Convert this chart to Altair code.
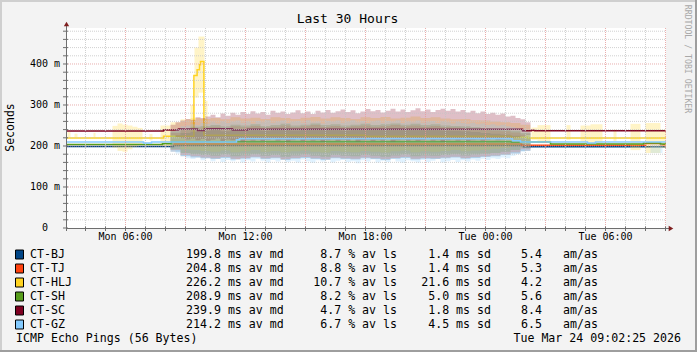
import altair as alt
import pandas as pd

# ---------------- data ----------------
names = ["CT-BJ", "CT-TJ", "CT-HLJ", "CT-SH", "CT-SC", "CT-GZ"]
colors = ["#004586", "#ff420e", "#ffd320", "#579d1c", "#7e0021", "#83caff"]
med_ms = [199.8, 204.8, 226.2, 208.9, 239.9, 214.2]
loss_pct = [8.7, 8.8, 10.7, 8.2, 4.7, 6.7]
sd_ms = [1.4, 1.4, 21.6, 5.0, 1.8, 4.5]
am_as = [5.4, 5.3, 4.2, 5.6, 8.4, 6.5]

title_text = "Last 30 Hours"
y_title = "Seconds"
footer_left = "ICMP Echo Pings (56 Bytes)"
footer_right = "Tue Mar 24 09:02:25 2026"
watermark = "RRDTOOL / TOBI OETIKER"

# time axis in hours since Mon 00:00
T0, T1 = 3.025, 33.025
YMAX = 487.8
tick_hours = [6, 12, 18, 24, 30]
tick_labels = ["Mon 06:00", "Mon 12:00", "Mon 18:00", "Tue 00:00", "Tue 06:00"]
y_tick_vals = [100, 200, 300, 400]
y_tick_labels = ["100 m", "200 m", "300 m", "400 m"]
y_zero_label = "0"

# median lines (step changes: time, value in ms)
bj_t = [3.025, 8.40, 25.90, 33.025]
bj_v = [198.5, 201.0, 198.0, 198.0]
tj_t = [8.40, 25.80, 32.00, 32.75, 33.025]
tj_v = [205.0, 202.0, 206.0, 203.0, 203.0]
hlj_t = [3.025, 7.90, 9.42, 9.58, 9.70, 9.75, 9.92, 18.0, 25.30, 26.10, 33.025]
hlj_v = [219.5, 223.5, 372, 386, 398, 406, 226, 224, 221.5, 219.5, 219.5]
sh_t = [3.025, 7.85, 8.30, 25.30, 25.75, 27.25, 31.90, 32.75, 33.025]
sh_v = [203.5, 205.5, 210.5, 209.0, 209.5, 205.0, 207.5, 205.0, 205.0]
sc_t = [3.025, 7.90, 8.65, 9.60, 9.95, 11.35, 12.10, 25.85, 26.30, 26.45, 33.025]
sc_v = [236.5, 239.0, 241.5, 237.5, 242.0, 239.0, 241.0, 237.0, 238.5, 237.0, 237.0]
gz_t = [3.025, 6.90, 7.30, 11.55, 11.70, 25.35, 25.75, 29.10, 29.50, 33.025]
gz_v = [209.5, 207.5, 209.5, 215.0, 217.5, 213.0, 210.0, 207.5, 209.5, 209.5]

# smoke during the busy period (starting 08:15); 30-minute bins
busy_start = 8.25
bj_lo = [186, 175, 172, 170, 168, 171, 167, 169, 172, 168, 170, 166, 169, 171, 168, 166, 170, 168, 167, 170,
         168, 166, 169, 171, 167, 169, 168, 170, 172, 169, 171, 173, 175, 178, 182, 188]
bj_hi = [226, 232, 235, 237, 239, 236, 240, 238, 241, 237, 239, 242, 238, 240, 243, 239, 241, 238, 240, 242,
         239, 241, 243, 240, 242, 239, 241, 238, 237, 236, 234, 232, 230, 228, 225, 220]
tj_lo = [190, 178, 175, 172, 170, 173, 169, 171, 174, 170, 172, 168, 171, 173, 170, 168, 172, 170, 169, 172,
         170, 168, 171, 173, 169, 171, 170, 172, 174, 171, 173, 175, 177, 180, 185, 192]
tj_hi = [232, 240, 243, 245, 247, 244, 248, 246, 249, 245, 247, 250, 246, 248, 251, 247, 249, 246, 248, 250,
         247, 249, 251, 248, 250, 247, 249, 246, 245, 244, 242, 240, 238, 236, 233, 228]
hlj_lo = [200, 192, 190, 188, 186, 189, 185, 187, 190, 186, 188, 185, 187, 189, 186, 184, 188, 186, 185, 188,
          186, 184, 187, 189, 185, 187, 186, 188, 190, 187, 189, 191, 193, 196, 200, 205]
hlj_hi = [258, 265, 268, 266, 268, 265, 270, 267, 269, 266, 270, 268, 266, 269, 271, 267, 270, 268, 266, 270,
          268, 271, 267, 269, 272, 268, 270, 267, 265, 266, 263, 262, 260, 258, 256, 252]
sh_lo = [192, 183, 180, 178, 176, 179, 175, 177, 180, 176, 178, 174, 177, 179, 176, 174, 178, 176, 175, 178,
         176, 174, 177, 179, 175, 177, 176, 178, 180, 177, 179, 181, 183, 186, 190, 196]
sh_hi = [236, 244, 247, 249, 251, 248, 252, 250, 253, 249, 251, 254, 250, 252, 255, 251, 253, 250, 252, 254,
         251, 253, 255, 252, 254, 251, 253, 250, 249, 248, 246, 244, 242, 240, 237, 232]
# 15-minute bins for the two edge series
sc_lo = [226, 222, 219, 216, 218, 214, 217, 213, 215, 218, 212, 216, 214, 217, 211, 215, 213, 216, 212, 215,
         217, 213, 215, 211, 214, 217, 212, 216, 213, 215, 211, 214, 216, 212, 215, 213, 217, 211, 214, 216,
         212, 215, 213, 217, 211, 214, 216, 213, 215, 212, 214, 217, 213, 215, 211, 214, 216, 213, 215, 212,
         214, 216, 213, 215, 217, 214, 216, 218, 219, 221, 223, 227]
sc_hi = [252, 258, 262, 266, 264, 270, 268, 272, 276, 270, 279, 274, 281, 276, 283, 278, 285, 279, 283, 276,
         286, 281, 284, 278, 282, 287, 280, 284, 278, 286, 282, 288, 281, 285, 289, 283, 287, 280, 284, 290,
         285, 288, 282, 286, 291, 284, 289, 283, 287, 292, 285, 289, 283, 288, 291, 286, 290, 284, 288, 282,
         286, 280, 284, 278, 281, 276, 279, 272, 274, 268, 265, 258]
gz_lo = [190, 182, 176, 170, 168, 172, 165, 170, 163, 168, 161, 166, 163, 170, 160, 165, 162, 168, 164, 160,
         166, 162, 169, 161, 164, 160, 167, 163, 159, 165, 162, 168, 160, 164, 166, 161, 163, 158, 165, 162,
         167, 160, 164, 161, 168, 162, 159, 165, 163, 160, 166, 161, 164, 168, 160, 163, 166, 161, 165, 162,
         167, 164, 169, 166, 170, 168, 172, 170, 176, 180, 186, 192]
gz_hi = [236, 242, 248, 250, 253, 251, 256, 254, 258, 255, 260, 256, 259, 262, 257, 260, 255, 261, 258, 263,
         257, 260, 262, 256, 259, 261, 257, 263, 258, 260, 255, 261, 259, 262, 257, 260, 263, 258, 261, 256,
         260, 262, 257, 261, 259, 263, 256, 260, 258, 262, 257, 259, 261, 256, 260, 258, 255, 259, 256, 254,
         257, 253, 255, 251, 253, 250, 252, 248, 246, 243, 240, 235]

# extra smoke patches outside the busy period (series, start, end, low, high)
seg_series = ["CT-HLJ"] * 24 + ["CT-GZ"]
seg_t0 = [3.10, 3.45, 4.40, 5.35, 5.60, 5.85, 6.10, 6.35, 6.60, 7.20, 7.75,
          9.25, 9.45, 9.65, 9.95,
          26.30, 26.60, 28.05, 28.75, 29.25, 30.40, 31.25, 32.00, 32.75, 32.25]
seg_t1 = [3.25, 3.60, 4.50, 5.60, 5.85, 6.10, 6.35, 6.60, 6.85, 7.35, 8.25,
          9.45, 9.65, 9.95, 10.10,
          26.60, 27.25, 28.25, 29.25, 29.85, 30.55, 31.75, 32.75, 33.025, 32.85]
seg_lo = [220, 221, 221, 196, 188, 186, 192, 198, 205, 214, 200,
          235, 318, 330, 240,
          215, 207, 215, 210, 205, 212, 190, 183, 195, 183]
seg_hi = [234, 230, 232, 249, 255, 252, 250, 247, 244, 229, 250,
          300, 440, 467, 310,
          245, 251, 251, 250, 253, 240, 254, 256, 240, 205]

line_t = [bj_t, tj_t, hlj_t, sh_t, sc_t, gz_t]
line_v = [bj_v, tj_v, hlj_v, sh_v, sc_v, gz_v]
smoke_lo = [bj_lo, tj_lo, hlj_lo, sh_lo, sc_lo, gz_lo]
smoke_hi = [bj_hi, tj_hi, hlj_hi, sh_hi, sc_hi, gz_hi]
BUSY_HOURS = 18.0

# ---------------- chart ----------------
MONO = "DejaVu Sans Mono"
W, H = 600, 200
xs = alt.Scale(domain=[T0, T1], nice=False, zero=False)
ys = alt.Scale(domain=[0, YMAX], nice=False, zero=True)
SMOKE_OPACITY = 0.25

layers = []
seg_df = pd.DataFrame({"s": seg_series, "t0": seg_t0, "t1": seg_t1, "lo": seg_lo, "hi": seg_hi})

for i, nm in enumerate(names):
    c = colors[i]
    n = len(smoke_lo[i])
    step = BUSY_HOURS / n
    bin_t = [busy_start + step * k for k in range(n + 1)]
    lo = smoke_lo[i] + [smoke_lo[i][-1]]
    hi = smoke_hi[i] + [smoke_hi[i][-1]]
    sdf = pd.DataFrame({"t": bin_t, "lo": lo, "hi": hi})
    layers.append(
        alt.Chart(sdf).mark_area(interpolate="step-after", color=c, opacity=SMOKE_OPACITY).encode(
            x=alt.X("t:Q", scale=xs, axis=None),
            y=alt.Y("hi:Q", scale=ys, axis=None),
            y2="lo:Q",
        )
    )
    sub = seg_df[seg_df["s"] == nm]
    if len(sub):
        layers.append(
            alt.Chart(sub).mark_rect(color=c, opacity=0.25).encode(
                x=alt.X("t0:Q", scale=xs, axis=None), x2="t1:Q",
                y=alt.Y("hi:Q", scale=ys, axis=None), y2="lo:Q",
            )
        )
    ldf = pd.DataFrame({"t": line_t[i], "v": line_v[i]})
    layers.append(
        alt.Chart(ldf).mark_line(interpolate="step-after", color=c, strokeWidth=1.5).encode(
            x=alt.X("t:Q", scale=xs, axis=None),
            y=alt.Y("v:Q", scale=ys, axis=None),
        )
    )

# grid (drawn over the data, as rrdtool does)
minor_x = [h for h in range(4, 34) if h % 3 != 0]
major_x = [h for h in range(4, 34) if h % 3 == 0]
minor_y = [v for v in range(20, 481, 20) if v % 100 != 0]
major_y = [v for v in range(100, 481, 100)]
GRID_MINOR = "#c4c4c4"
GRID_MAJOR = "#e49a9a"
for vals, col in [(minor_x, GRID_MINOR), (major_x, GRID_MAJOR)]:
    layers.append(
        alt.Chart(pd.DataFrame({"h": vals})).mark_rule(color=col, strokeDash=[1, 1], strokeWidth=1, opacity=0.8).encode(
            x=alt.X("h:Q", scale=xs, axis=None), y=alt.value(0), y2=alt.value(H)
        )
    )
for vals, col in [(minor_y, GRID_MINOR), (major_y, GRID_MAJOR)]:
    layers.append(
        alt.Chart(pd.DataFrame({"v": vals})).mark_rule(color=col, strokeDash=[1, 1], strokeWidth=1, opacity=0.8).encode(
            y=alt.Y("v:Q", scale=ys, axis=None), x=alt.value(0), x2=alt.value(W)
        )
    )

# axis lines, ticks and arrows
AX = "#6e6e6e"
one = pd.DataFrame({"a": [0]})
all_hours = list(range(4, 34))
all_y = list(range(0, 481, 20))
layers.append(alt.Chart(pd.DataFrame({"h": all_hours})).mark_rule(color=AX, strokeWidth=1).encode(
    x=alt.X("h:Q", scale=xs, axis=None), y=alt.value(H - 1.5), y2=alt.value(H + 3)))
layers.append(alt.Chart(pd.DataFrame({"v": all_y})).mark_rule(color=AX, strokeWidth=1).encode(
    y=alt.Y("v:Q", scale=ys, axis=None), x=alt.value(-3), x2=alt.value(2)))
layers.append(alt.Chart(one).mark_rule(color=AX, strokeWidth=1).encode(
    x=alt.value(0), x2=alt.value(W + 4), y=alt.value(H + 0.5)))
layers.append(alt.Chart(one).mark_rule(color=AX, strokeWidth=1).encode(
    x=alt.value(0.5), y=alt.value(-2), y2=alt.value(H + 3)))
layers.append(alt.Chart(one).mark_point(shape="triangle-right", filled=True, color="#7f1f1f", size=28, opacity=1).encode(
    x=alt.value(W + 5), y=alt.value(H + 0.5)))
layers.append(alt.Chart(one).mark_point(shape="triangle-up", filled=True, color="#7f1f1f", size=28, opacity=1).encode(
    x=alt.value(0.5), y=alt.value(-4)))

# tick labels
layers.append(alt.Chart(pd.DataFrame({"h": tick_hours, "lab": tick_labels})).mark_text(
    font=MONO, fontSize=10, align="center", baseline="middle", color="black").encode(
    x=alt.X("h:Q", scale=xs, axis=None), y=alt.value(H + 9.3), text="lab:N"))
layers.append(alt.Chart(pd.DataFrame({"v": y_tick_vals, "lab": y_tick_labels})).mark_text(
    font=MONO, fontSize=10, align="right", baseline="middle", color="black").encode(
    y=alt.Y("v:Q", scale=ys, axis=None), x=alt.value(-6), text="lab:N"))
layers.append(alt.Chart(pd.DataFrame({"v": [0], "lab": [y_zero_label]})).mark_text(
    font=MONO, fontSize=10, align="right", baseline="middle", color="black").encode(
    y=alt.Y("v:Q", scale=ys, axis=None), x=alt.value(-18), text="lab:N"))

# frame
for (x1, x2, y1, y2, col) in [(-66, 631, -27, -27, "#cfcfcf"), (-65, -65, -28, 324, "#cfcfcf"),
                              (-66, 631, 323, 323, "#9e9e9e"), (630, 630, -28, 324, "#9e9e9e")]:
    layers.append(alt.Chart(one).mark_rule(color=col, strokeWidth=2).encode(
        x=alt.value(x1), x2=alt.value(x2), y=alt.value(y1), y2=alt.value(y2)))

# titles
def text_layer(s, x, y, size, align="left", angle=0, color="black"):
    return alt.Chart(pd.DataFrame({"s": [s]})).mark_text(
        font=MONO, fontSize=size, align=align, baseline="middle", angle=angle, color=color
    ).encode(text="s:N", x=alt.value(x), y=alt.value(y))

layers.append(text_layer(title_text, 281.5, -9, 13, align="center"))
layers.append(text_layer(y_title, -55, 99.5, 11.5, align="center", angle=270))
layers.append(text_layer(watermark, 621, 31, 8.2, align="center", angle=90, color="#a8a8a8"))
layers.append(text_layer(footer_left, -50, 310.5, 11.6))
layers.append(text_layer(footer_right, 615, 310.5, 11.6, align="right"))

# legend
leg = pd.DataFrame({
    "name": names,
    "row": list(range(len(names))),
    "md": [f"{m:.1f} ms av md" for m in med_ms],
    "ls": [f"{l:.1f} % av ls" for l in loss_pct],
    "sd": [f"{s:.1f} ms sd" for s in sd_ms],
    "am": [f"{a:.1f}" for a in am_as],
    "unit": ["am/as"] * len(names),
})
leg_base = alt.Chart(leg).transform_calculate(py="226.5 + 14 * datum.row")
layers.append(leg_base.transform_calculate(y1="datum.py - 4.5", y2="datum.py + 4.5").mark_rect(
    stroke="black", strokeWidth=1).encode(
    x=alt.value(-50.5), x2=alt.value(-42.5),
    y=alt.Y("y1:Q", scale=None, axis=None), y2="y2:Q",
    color=alt.Color("name:N", scale=alt.Scale(domain=names, range=colors), legend=None)))
for field, x, align in [("name", -36, "left"), ("md", 120, "left"), ("ls", 331, "right"),
                        ("sd", 425, "right"), ("am", 455, "left"), ("unit", 497, "left")]:
    layers.append(leg_base.mark_text(font=MONO, fontSize=11.6, align=align, baseline="middle", color="black").encode(
        text=f"{field}:N", x=alt.value(x), y=alt.Y("py:Q", scale=None, axis=None)))

chart = alt.layer(*layers).properties(
    width=W, height=H,
    padding={"left": 66, "top": 28, "right": 31, "bottom": 124},
    autosize=alt.AutoSizeParams(type="none"),
    background="#f3f3f3",
).configure_view(fill="white", stroke=None)

chart.save("out.html", embed_options={"renderer": "svg", "actions": False})
